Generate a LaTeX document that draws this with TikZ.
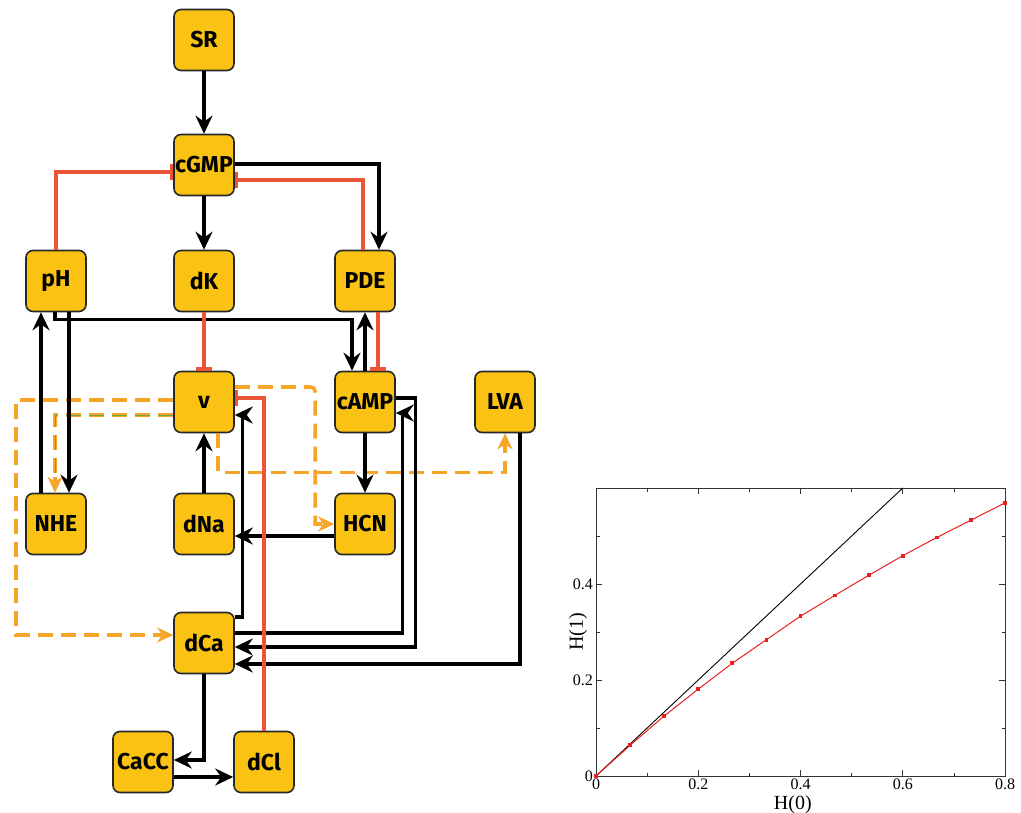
\documentclass[tikz,border=0pt]{standalone}
\usepackage{fontspec}
\setsansfont{Fira Sans}
\setmainfont{Liberation Serif}
\usetikzlibrary{arrows.meta,calc,plotmarks}
\definecolor{boxfill}{RGB}{250,195,20}
\definecolor{boxdraw}{RGB}{40,40,40}
\definecolor{inhred}{RGB}{235,85,55}
\definecolor{dashor}{RGB}{245,165,40}
\definecolor{dashgr}{RGB}{110,165,70}
\definecolor{plotred}{RGB}{235,30,30}
\tikzset{
  gene/.style={draw=boxdraw, line width=1.6pt, fill=boxfill, rounded corners=7pt,
    minimum width=60pt, minimum height=61pt, inner sep=0pt,
    font=\sffamily\bfseries\fontsize{23}{23}\selectfont},
  act/.style={draw=black, line width=3.2pt, -{Stealth[length=18pt,width=17pt,inset=6pt]}},
  inh/.style={draw=inhred, line width=3.4pt, -{Bar[width=16pt]}},
  dshline/.style={draw=dashor, line width=3.6pt, dash pattern=on 15pt off 8pt},
  dsh/.style={dshline, -{Stealth[length=16pt,width=15pt,inset=5pt]}},
  dshtip/.style={draw=dashor, line width=3.6pt, solid, -{Stealth[length=16pt,width=15pt,inset=5pt]}},
  core/.style={draw=dashgr, line width=0.9pt, dash pattern=on 15pt off 8pt},
  ticklab/.style={font=\fontsize{16}{16}\selectfont, inner sep=1pt},
  axlab/.style={font=\fontsize{20}{20}\selectfont, inner sep=0pt}
}
\begin{document}
\begin{tikzpicture}[x=1pt,y=-1pt]
\useasboundingbox (0,0) rectangle (1021,812);
% nodes
\node[gene] (SR) at (204,40) {SR};
\node[gene] (cGMP) at (204,165) {cGMP};
\node[gene] (pH) at (56,281) {pH};
\node[gene] (dK) at (204,281) {dK};
\node[gene] (PDE) at (365,281) {PDE};
\node[gene] (v) at (204,402) {v};
\node[gene] (cAMP) at (365,402) {cAMP};
\node[gene] (LVA) at (505,402) {LVA};
\node[gene] (NHE) at (56,524) {NHE};
\node[gene] (dNa) at (204,524) {dNa};
\node[gene] (HCN) at (365,524) {HCN};
\node[gene] (dCa) at (204,643) {dCa};
\node[gene] (CaCC) at (143,762) {CaCC};
\node[gene] (dCl) at (264,762) {dCl};
% orange dashed edges
\draw[dsh] ($(v.west)+(0,-2)$) -| ($(dCa.west)+(-157,-8)$) -- ($(dCa.west)+(0,-8)$);
\coordinate (nA) at ($(v.west)+(0,13)$);
\coordinate (nC) at ($(NHE.north)+(-1,-16)$);
\coordinate (nB) at (nC |- nA);
\draw[dshline] (nA) -- (nB) -- (nC);
\draw[core] (nA) -- (nB) -- (nC);
\draw[dshtip] (nC) -- (NHE.north -| nC);
\coordinate (hA) at ($(v.east)+(0,-15)$);
\coordinate (hC) at ($(HCN.west)+(-19,0)$);
\coordinate (hB) at (hC |- hA);
\draw[dsh] (hA) -- ($(hB)+(-10,0)$) .. controls (hB) .. ($(hB)+(0,10)$) -- (hC) -- (HCN.west);
\coordinate (lA) at ($(v.south)+(14,0)$);
\coordinate (lC) at ($(LVA.south)+(0,39)$);
\coordinate (lB) at (lA |- lC);
\draw[dsh] (lA) -- (lB) -- (lC) -- (LVA.south);
% black activation edges
\draw[act] (SR) -- (cGMP);
\draw[act] (cGMP) -- (dK);
\draw[act] ($(cGMP.east)+(0,-1)$) -| ($(PDE.north)+(14,0)$);
\draw[act] ($(pH.south)+(-1,0)$) -- ++(0,7) -| ($(cAMP.north)+(-13,0)$);
\draw[act] ($(pH.south)+(13,0)$) -- ($(NHE.north)+(13,0)$);
\draw[act] ($(NHE.north)+(-15,0)$) -- ($(pH.south)+(-15,0)$);
\draw[act] (cAMP) -- (PDE);
\draw[act] (cAMP) -- (HCN);
\draw[act] ($(HCN.west)+(0,12)$) -- ($(dNa.east)+(0,12)$);
\draw[act] (dNa) -- (v);
\draw[act] ($(dCa.east)+(0,-26)$) -- ++(8,0) |- ($(v.east)+(0,13)$);
\draw[act] ($(dCa.east)+(0,-10)$) -| ($(cAMP.east)+(7,11)$) -- ($(cAMP.east)+(0,11)$);
\draw[act] ($(cAMP.east)+(0,-4)$) -- ++(20,0) |- ($(dCa.east)+(0,4)$);
\draw[act] ($(LVA.south)+(15,0)$) |- ($(dCa.east)+(0,21)$);
\draw[act] (dCa.south) |- ($(CaCC.east)+(0,-2)$);
\draw[act] ($(CaCC.east)+(0,15)$) -- ($(dCl.west)+(0,15)$);
% red inhibition edges
\draw[inh] ($(PDE.north)+(-2,0)$) |- ($(cGMP.east)+(0,15)$);
\draw[inh] (pH.north) |- ($(cGMP.west)+(0,7)$);
\draw[inh] (dK) -- (v);
\draw[inh] ($(PDE.south)+(13,0)$) -- ($(cAMP.north)+(13,0)$);
\draw[inh] (dCl.north) |- ($(v.east)+(0,-4)$);
% plot
\begin{scope}[shift={(596,776)}, x=511.25pt, y=480pt]
  \draw[line width=0.8pt, draw=black!80] (0,0) rectangle (0.8,0.6);
  \foreach \t in {0.2,0.4,0.6} {
    \draw[line width=0.7pt, draw=black!80] (\t,0) -- ++(0,6pt);
    \draw[line width=0.7pt, draw=black!80] (\t,0.6) -- ++(0,-6pt);
  }
  \foreach \t in {0.1,0.3,0.5,0.7} {
    \draw[line width=0.7pt, draw=black!80] (\t,0) -- ++(0,3.5pt);
    \draw[line width=0.7pt, draw=black!80] (\t,0.6) -- ++(0,-3.5pt);
  }
  \foreach \t in {0.2,0.4} {
    \draw[line width=0.7pt, draw=black!80] (0,\t) -- ++(6pt,0);
    \draw[line width=0.7pt, draw=black!80] (0.8,\t) -- ++(-6pt,0);
  }
  \foreach \t in {0.1,0.3,0.5} {
    \draw[line width=0.7pt, draw=black!80] (0,\t) -- ++(3.5pt,0);
    \draw[line width=0.7pt, draw=black!80] (0.8,\t) -- ++(-3.5pt,0);
  }
  \foreach \t/\l in {0/0,0.2/0.2,0.4/0.4,0.6/0.6,0.8/0.8}
    \node[ticklab, anchor=north] (xt\l) at ([yshift=-1.5pt]\t,0) {\l};
  \foreach \t/\l in {0/0,0.2/0.2,0.4/0.4}
    \node[ticklab, anchor=east] (yt\l) at ([xshift=-2pt]0,\t) {\l};
  \node[axlab, anchor=north] (xlab) at (0.385,-0.04) {H(0)};
  \node[axlab, rotate=90] (ylab) at (-0.035,0.3) {H(1)};
  \draw[line width=0.9pt] (0,0) -- (0.6,0.6);
  \draw[plotred, line width=1pt, mark=square*, mark size=1.4pt,
        mark options={fill=plotred, draw=plotred}]
    plot coordinates {(0,0) (0.0667,0.064) (0.1333,0.125) (0.2,0.181) (0.2667,0.235)
      (0.3333,0.284) (0.4,0.333) (0.4667,0.376) (0.5333,0.418) (0.6,0.459)
      (0.6667,0.497) (0.7333,0.533) (0.8,0.569)};
\end{scope}
\end{tikzpicture}
\end{document}
